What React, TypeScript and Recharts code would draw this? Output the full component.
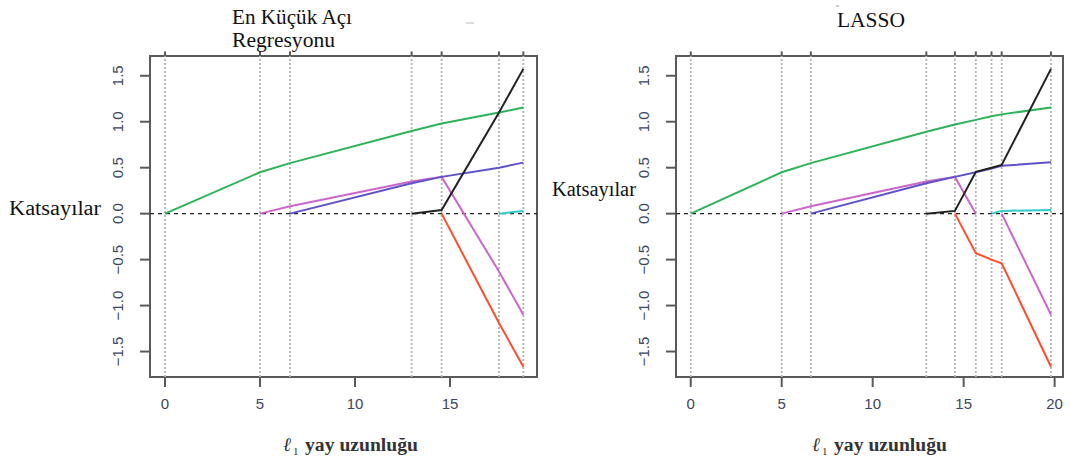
import React from 'react';
import { LineChart, Line, XAxis, YAxis, ReferenceLine, ReferenceArea } from 'recharts';

// LAR (left panel) – knots on the l1 arc length axis and coefficient values at each knot
const larKnots = [0, 5.0, 6.58, 12.98, 14.56, 17.58, 18.86];
const larGreen = [0, 0.45, 0.55, 0.9, 0.98, 1.1, 1.155];
const larMagenta = [null, 0, 0.08, 0.35, 0.4, -0.63, -1.1];
const larPurple = [null, null, 0, 0.33, 0.4, 0.5, 0.555];
const larBlack = [null, null, null, 0, 0.04, 1.1, 1.575];
const larRed = [null, null, null, null, 0, -1.19, -1.665];
const larCyan = [null, null, null, null, null, 0, 0.03];

// LASSO (right panel)
const lassoKnots = [0, 5.0, 6.6, 12.95, 14.52, 15.67, 16.53, 17.09, 19.8];
const lassoGreen = [0, 0.45, 0.55, 0.89, 0.97, 1.02, 1.06, 1.08, 1.155];
const lassoMagenta = [null, 0, 0.08, 0.35, 0.4, 0, null, 0, -1.1];
const lassoPurple = [null, null, 0, 0.33, 0.4, 0.45, 0.49, 0.52, 0.56];
const lassoBlack = [null, null, null, 0, 0.03, 0.455, 0.5, 0.53, 1.575];
const lassoRed = [null, null, null, null, 0, -0.43, -0.5, -0.54, -1.665];
const lassoCyan = [null, null, null, null, null, null, 0, 0.03, 0.04];

const larTicks = [0, 5, 10, 15];
const lassoTicks = [0, 5, 10, 15, 20];
const yTicks = [-1.5, -1, -0.5, 0, 0.5, 1, 1.5];

const seriesColors: Record<string, string> = {
  green: '#2eb35a',
  magenta: '#cc66cc',
  purple: '#5f52c8',
  black: '#222222',
  red: '#ff4d2e',
  cyan: '#33cccc',
};

const buildRows = (knots: number[], cols: Record<string, (number | null)[]>) =>
  knots.map((x, i) => {
    const row: Record<string, number | null> = { x };
    Object.keys(cols).forEach((k) => (row[k] = cols[k][i]));
    return row;
  });

const larRows = buildRows(larKnots, {
  green: larGreen, magenta: larMagenta, purple: larPurple,
  black: larBlack, red: larRed, cyan: larCyan,
});
const lassoRows = buildRows(lassoKnots, {
  green: lassoGreen, magenta: lassoMagenta, purple: lassoPurple,
  black: lassoBlack, red: lassoRed, cyan: lassoCyan,
});

const Y_DOMAIN: [number, number] = [-1.777, 1.715];
const AXIS = '#5a5a5a';
const LABEL = '#3d4560';
const sans = 'Liberation Sans, Arial, sans-serif';
const serif = 'Liberation Serif, Times New Roman, serif';

const fmtY = (v: number) => {
  const s = Math.abs(v).toFixed(1);
  return v < 0 ? '\u2212' + s : s;
};

const YTick = (props: any) => {
  const { x, y, payload } = props;
  const cx = x - 20;
  return (
    <text
      x={cx}
      y={y}
      transform={`rotate(-90, ${cx}, ${y})`}
      textAnchor="middle"
      dominantBaseline="central"
      fontSize={15}
      fontFamily={sans}
      fill={LABEL}
    >
      {fmtY(payload.value)}
    </text>
  );
};

type PanelProps = {
  left: number;
  plotLeft: number;
  plotRight: number;
  rows: any[];
  knots: number[];
  ticks: number[];
  xDomain: [number, number];
};

const Panel = ({ left, plotLeft, plotRight, rows, knots, ticks, xDomain }: PanelProps) => {
  const width = 1070 - left;
  return (
    <div style={{ position: 'absolute', left, top: 0 }}>
      <LineChart
        width={width}
        height={462}
        data={rows}
        margin={{ top: 56, right: width - (plotRight - left), bottom: 25, left: 0 }}
      >
        <XAxis
          dataKey="x"
          type="number"
          domain={xDomain}
          allowDataOverflow
          ticks={ticks}
          tickSize={10}
          tickMargin={11}
          height={60}
          axisLine={false}
          tickLine={{ stroke: AXIS, strokeWidth: 2 }}
          tick={{ fontSize: 15, fill: LABEL, fontFamily: sans }}
        />
        <YAxis
          type="number"
          domain={Y_DOMAIN}
          allowDataOverflow
          ticks={yTicks}
          tickSize={10}
          width={plotLeft - left}
          axisLine={false}
          tickLine={{ stroke: AXIS, strokeWidth: 2 }}
          tick={<YTick />}
        />
        {knots.map((k) => (
          <ReferenceLine key={'v' + k} x={k} stroke="#b4b4b4" strokeWidth={1.8} strokeDasharray="2 2" />
        ))}
        {knots.map((k) => (
          <ReferenceLine
            key={'t' + k}
            segment={[{ x: k, y: Y_DOMAIN[1] }, { x: k, y: Y_DOMAIN[1] + 0.05 }]}
            stroke={AXIS}
            strokeWidth={2}
            ifOverflow="visible"
          />
        ))}
        <ReferenceLine y={0} stroke="#222" strokeWidth={1.4} strokeDasharray="4 4" />
        {Object.keys(seriesColors).map((k) => (
          <Line
            key={k}
            dataKey={k}
            type="linear"
            stroke={seriesColors[k]}
            strokeWidth={2}
            dot={false}
            connectNulls={false}
            isAnimationActive={false}
          />
        ))}
        <ReferenceArea
          x1={xDomain[0]}
          x2={xDomain[1]}
          y1={Y_DOMAIN[0]}
          y2={Y_DOMAIN[1]}
          fill="none"
          fillOpacity={0}
          stroke={AXIS}
          strokeWidth={2}
          strokeOpacity={1}
          ifOverflow="visible"
        />
      </LineChart>
    </div>
  );
};

const AxisTitle = ({ x }: { x: number }) => (
  <g fontFamily={serif} fill="#333">
    <text x={x} y={451} fontSize={19} fontStyle="italic">ℓ</text>
    <text x={x + 10} y={455} fontSize={11}>1</text>
    <text x={x + 22} y={451} fontSize={18} fontWeight="bold" textLength={113} lengthAdjust="spacingAndGlyphs">
      yay uzunluğu
    </text>
  </g>
);

export default function App() {
  return (
    <div style={{ position: 'absolute', left: 0, top: 0, width: 1070, height: 462, background: '#fff' }}>
      <Panel
        left={0}
        plotLeft={150}
        plotRight={537}
        rows={larRows}
        knots={larKnots}
        ticks={larTicks}
        xDomain={[-0.79, 19.58]}
      />
      <Panel
        left={530}
        plotLeft={676}
        plotRight={1063}
        rows={lassoRows}
        knots={lassoKnots}
        ticks={lassoTicks}
        xDomain={[-0.81, 20.46]}
      />
      <svg width={1070} height={462} style={{ position: 'absolute', left: 0, top: 0, pointerEvents: 'none' }}>
        <g fontFamily={serif} fontSize={20} fill="#111">
          <text x={232} y={24} textLength={120} lengthAdjust="spacingAndGlyphs">En Küçük Açı</text>
          <text x={232} y={47} textLength={103} lengthAdjust="spacingAndGlyphs">Regresyonu</text>
          <text x={837} y={27} textLength={68} lengthAdjust="spacingAndGlyphs">LASSO</text>
          <text x={9} y={215} textLength={92} lengthAdjust="spacingAndGlyphs">Katsayılar</text>
          <text x={552} y={196} textLength={84} lengthAdjust="spacingAndGlyphs">Katsayılar</text>
        </g>
        {/* faint scan marks present in the source image */}
        <line x1={466} y1={23} x2={474} y2={23} stroke="#bbb" strokeWidth={1} />
        <line x1={836} y1={6} x2={839} y2={6} stroke="#999" strokeWidth={1} />
        <AxisTitle x={283} />
        <AxisTitle x={812} />
      </svg>
    </div>
  );
}
